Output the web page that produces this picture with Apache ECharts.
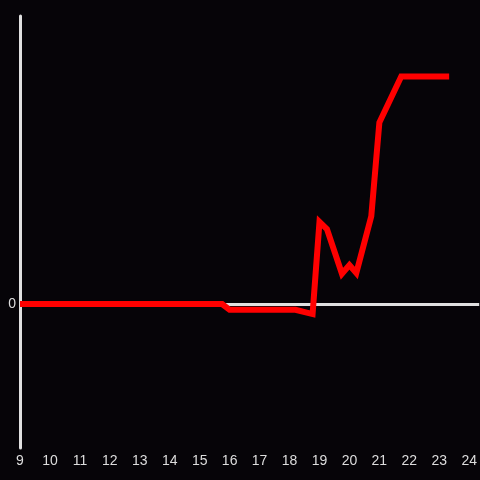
<!DOCTYPE html>
<html>
<head>
<meta charset="utf-8">
<script src="https://cdn.jsdelivr.net/npm/echarts@6/dist/echarts.min.js"></script>
<style>
html,body{margin:0;padding:0;background:#060408;}
#c{width:480px;height:480px;}
</style>
</head>
<body>
<div id="c"></div>
<script>
// Hours of the day (x) and series values (y)
var hours = [9, 15.75, 16.0, 18.2, 18.77, 19.0, 19.25, 19.75, 20.0, 20.23, 20.73, 21.0, 21.73, 23.33];
var values = [0, 0, -0.04, -0.04, -0.07, 0.57, 0.52, 0.21, 0.27, 0.215, 0.61, 1.26, 1.58, 1.58];
var xTicks = [9,10,11,12,13,14,15,16,17,18,19,20,21,22,23,24];
var yLabelValues = [0];

var data = hours.map(function (h, i) { return [h, values[i]]; });

var chart = echarts.init(document.getElementById('c'), null, {renderer: 'canvas'});
chart.setOption({
  animation: false,
  backgroundColor: '#060408',
  grid: {left: 20, right: 0, top: 16, bottom: 32, containLabel: false},
  xAxis: {
    type: 'value',
    min: 9,
    max: 24.3333,
    interval: 1,
    axisLine: {show: false, onZero: false},
    axisTick: {show: false},
    splitLine: {show: false},
    axisLabel: {
      color: '#dddddd',
      fontSize: 14,
      fontFamily: 'Liberation Sans',
      margin: 6,
      showMaxLabel: false,
      formatter: function (v) { return xTicks.indexOf(v) >= 0 ? String(v) : ''; }
    }
  },
  yAxis: {
    type: 'value',
    min: -1,
    max: 2,
    interval: 1,
    axisLine: {show: true, onZero: false, lineStyle: {color: '#e0e0e0', width: 3}},
    axisTick: {show: false},
    splitLine: {show: false},
    axisLabel: {
      color: '#dddddd',
      fontSize: 14,
      fontFamily: 'Liberation Sans',
      margin: 4,
      formatter: function (v) { return yLabelValues.indexOf(v) >= 0 ? String(v) : ''; }
    }
  },
  series: [{
    type: 'line',
    data: data,
    symbol: 'none',
    z: 3,
    lineStyle: {color: '#ff0000', width: 6, join: 'miter'},
    markLine: {
      silent: true,
      symbol: ['none', 'none'],
      label: {show: false},
      z: 2,
      lineStyle: {color: '#e0e0e0', width: 3, type: 'solid'},
      data: [{yAxis: 0}]
    }
  }]
});
</script>
</body>
</html>
